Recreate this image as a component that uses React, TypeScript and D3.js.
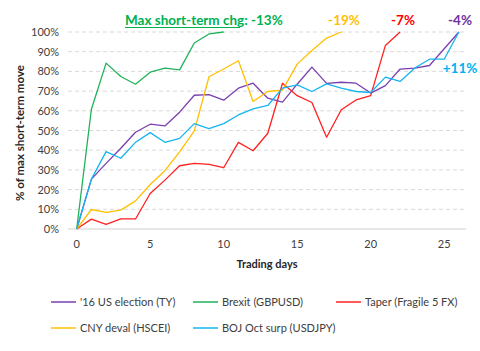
import * as d3 from "d3";
import React from "react";

const W = 480;
const H = 351;
const margin = { top: 32, right: 14, bottom: 122, left: 68 };
const plotRight = W - margin.right;
const plotBottom = 229;

const font = "Lato, 'Open Sans', sans-serif";

// values in % of max short-term move, by trading day
const usElection = [0, 25.3, 33.3, 41, 49.1, 53.2, 52.3, 59.3, 67.9, 68.2, 65.4, 71.5, 74, 66.4, 64.4, 73.5, 82.2, 73.9, 74.5, 74, 69, 72.8, 81.2, 81.7, 83, 91.5, 100];
const brexit = [0, 60.8, 84.2, 77.4, 73.5, 79.6, 81.7, 80.8, 94.4, 99, 100];
const taper = [0, 5, 2.3, 5.1, 5.1, 18, 24.8, 32.1, 33.3, 32.8, 31.1, 44, 39.7, 48.6, 74, 67.7, 64.2, 46.6, 60.5, 65.5, 67.7, 93.2, 100];
const cnyDeval = [0, 9.9, 8.4, 9.6, 14.3, 22.6, 29.6, 39.2, 49.8, 77.3, 81.2, 85.4, 64.7, 69.8, 70.5, 83.7, 90.6, 96.9, 100];
const bojSurp = [0, 25.3, 39.3, 35.9, 44, 48.9, 44, 46, 53.5, 51, 53.5, 57.9, 61, 62.7, 71.5, 73.2, 69.8, 73.7, 71.5, 69.8, 69.3, 77.1, 74.9, 81.7, 86.2, 86.2, 100];

const seriesNames = ["'16 US election (TY)", "Brexit (GBPUSD)", "Taper (Fragile 5 FX)", "CNY deval (HSCEI)", "BOJ Oct surp (USDJPY)"];
const seriesColors = ["#7a3fb0", "#1fb25a", "#ff2020", "#ffc000", "#16b4f0"];
const endLabels = ["-4%", "", "-7%", "-19%", "+11%"];

const yTicks = d3.range(0, 101, 10);
const xTicks = [0, 5, 10, 15, 20, 25];

export default function App() {
  const x = d3.scaleLinear().domain([0, 26]).range([76.7, 458.9]);
  const y = d3.scaleLinear().domain([0, 100]).range([plotBottom, margin.top]);
  const line = d3
    .line<number>()
    .x((_, i) => x(i))
    .y((d) => y(d));

  const allSeries = [usElection, brexit, taper, cnyDeval, bojSurp];

  const legendPos = [
    [51, 302],
    [193, 302],
    [336, 302],
    [51, 328],
    [193, 328],
  ];

  return (
    <div style={{ position: "absolute", left: 0, top: 0 }}>
      <svg width={W} height={H} style={{ display: "block", background: "#fff" }} fontFamily={font}>
        {/* gridlines */}
        {yTicks.filter((t) => t > 0).map((t) => (
          <line key={t} x1={margin.left} x2={plotRight} y1={y(t)} y2={y(t)} stroke="#d9d9d9" strokeWidth={1} strokeDasharray="4,3" />
        ))}
        <line x1={margin.left} x2={plotRight} y1={y(0)} y2={y(0)} stroke="#d0d0d0" strokeWidth={1} />

        {/* y tick labels */}
        {yTicks.map((t) => (
          <text key={t} x={59} y={y(t) + 4} textAnchor="end" fontSize={11} fill="#404040">
            {t}%
          </text>
        ))}
        {/* x tick labels */}
        {xTicks.map((t) => (
          <text key={t} x={x(t)} y={248} textAnchor="middle" fontSize={11} fill="#404040">
            {t}
          </text>
        ))}

        {/* axis titles */}
        <text x={267} y={268} textAnchor="middle" fontSize={11} fontWeight="bold" fill="#262626">
          Trading days
        </text>
        <text transform={`translate(24,133) rotate(-90)`} textAnchor="middle" fontSize={11.5} fontWeight="bold" fill="#262626">
          % of max short-term move
        </text>

        {/* lines */}
        {allSeries.map((s, i) => (
          <path key={i} d={line(s) || ""} fill="none" stroke={seriesColors[i]} strokeWidth={1.3} strokeLinejoin="round" />
        ))}

        {/* end labels */}
        <text x={125} y={25} fontSize={13.5} fontWeight="bold" fill="#00b050">
          Max short-term chg: -13%
        </text>
        <line x1={125} x2={240} y1={27.5} y2={27.5} stroke="#00b050" strokeWidth={1.2} />
        <text x={344} y={25} textAnchor="middle" fontSize={13.5} fontWeight="bold" fill="#ffc000">{endLabels[3]}</text>
        <text x={403} y={25} textAnchor="middle" fontSize={13.5} fontWeight="bold" fill="#ff0000">{endLabels[2]}</text>
        <text x={460} y={25} textAnchor="middle" fontSize={13.5} fontWeight="bold" fill="#7030a0">{endLabels[0]}</text>
        <text x={460} y={73} textAnchor="middle" fontSize={13.5} fontWeight="bold" fill="#00b0f0">{endLabels[4]}</text>

        {/* legend */}
        {seriesNames.map((name, i) => (
          <g key={name} transform={`translate(${legendPos[i][0]},${legendPos[i][1]})`}>
            <line x1={0} x2={25} y1={0} y2={0} stroke={seriesColors[i]} strokeWidth={1.5} />
            <text x={29} y={4} fontSize={11} fill="#404040">
              {name}
            </text>
          </g>
        ))}
      </svg>
    </div>
  );
}
